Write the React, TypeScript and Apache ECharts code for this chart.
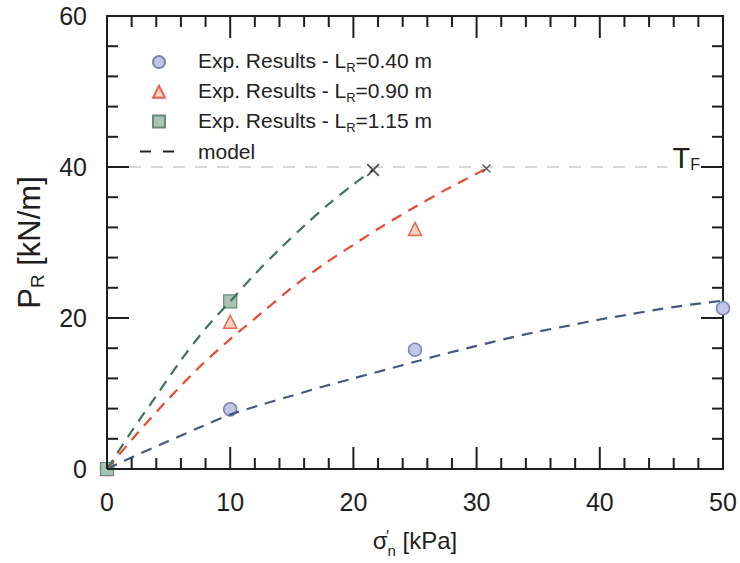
import React, { useEffect, useRef } from "react";
import * as echarts from "echarts";

// ---- data ----
const exp040X = [0, 10, 25, 50];
const exp040Y = [0, 7.9, 15.8, 21.3];
const exp090X = [0, 10, 25];
const exp090Y = [0, 19.5, 31.8];
const exp115X = [0, 10];
const exp115Y = [0, 22.2];

const model040X = [0, 2.5, 5, 7.5, 10, 12.5, 15, 17.5, 20, 22.5, 25, 27.5, 30, 32.5, 35, 37.5, 40, 42.5, 45, 47.5, 50];
const model040Y = [0, 1.9, 3.7, 5.5, 7.2, 8.5, 9.7, 10.9, 12.0, 13.1, 14.2, 15.3, 16.3, 17.3, 18.2, 19.0, 19.8, 20.5, 21.2, 21.8, 22.3];
const model090X = [0, 2.5, 5, 7.5, 10, 12.5, 15, 17.5, 20, 22.5, 25, 27.5, 30.8];
const model090Y = [0, 4.8, 9.3, 13.5, 17.2, 20.6, 24.0, 27.0, 29.7, 32.3, 34.7, 37.0, 39.8];
const model115X = [0, 2, 4, 6, 8, 10, 12, 14, 16, 18, 20, 21.6];
const model115Y = [0, 5.0, 9.7, 14.4, 18.6, 22.2, 25.8, 29.1, 32.2, 35.1, 37.7, 39.6];

const failGreenPt = [21.6, 39.6];
const failRedPt = [30.8, 39.8];

const tfX = [0, 45.5];
const tfY = [40, 40];

const expNames = ["L_R=0.40 m", "L_R=0.90 m", "L_R=1.15 m"];
const modelName = "model";

// axis ranges and tick positions
const xRange = [0, 50];
const yRange = [0, 60];
const xMajorTicks = [0, 10, 20, 30, 40, 50];
const xMinorTicks = [2, 4, 6, 8, 12, 14, 16, 18, 22, 24, 26, 28, 32, 34, 36, 38, 42, 44, 46, 48];
const yMajorTicks = [0, 20, 40, 60];
const yMinorTicks = [4, 8, 12, 16, 24, 28, 32, 36, 44, 48, 52, 56];

const pairs = (xs: number[], ys: number[]) => xs.map((x, i) => [x, ys[i]]);

const FONT = "'Liberation Sans', Arial, Helvetica, sans-serif";
const INK = "#1e1e1e";
const XSYM = "path://M0,1L1,0L5,4L9,0L10,1L6,5L10,9L9,10L5,6L1,10L0,9L4,5Z";
const MAJOR = 22;
const MINOR = 11;
const TICK_W = 2;

function axisBase(showLabel: boolean) {
  return {
    type: "value",
    axisLine: { show: true, onZero: false, lineStyle: { color: INK, width: 2 } },
    axisTick: { show: false },
    minorTick: { show: false },
    splitLine: { show: false },
    axisLabel: { show: showLabel, fontSize: 25, margin: 20, color: INK, fontFamily: FONT },
  };
}

const legendRich = {
  a: { fontSize: 21, fontFamily: FONT, color: "#222", verticalAlign: "top" },
  s: { fontSize: 13, fontFamily: FONT, color: "#222", verticalAlign: "top", padding: [11, 0, 0, 0] },
};

export default function App() {
  const ref = useRef<HTMLDivElement>(null);
  useEffect(() => {
    if (!ref.current) return;
    const chart = echarts.init(ref.current, null, { renderer: "svg" });

    const option: any = {
      animation: false,
      backgroundColor: "#ffffff",
      grid: { left: 107, right: 17, top: 16, bottom: 87, containLabel: false },
      xAxis: [
        {
          ...axisBase(true),
          min: xRange[0],
          max: xRange[1],
          interval: 10,
          position: "bottom",
          name: "{s|σ}{p|′}{n|n}{a| [kPa]}",
          nameLocation: "middle",
          nameGap: 59,
          nameTextStyle: {
            fontFamily: FONT,
            color: INK,
            rich: {
              s: { fontSize: 24, fontFamily: FONT, color: INK, verticalAlign: "top" },
              p: { fontSize: 16, fontFamily: FONT, color: INK, verticalAlign: "top", width: 0 },
              n: { fontSize: 15, fontFamily: FONT, color: INK, verticalAlign: "top", padding: [15, 0, 0, 0] },
              a: { fontSize: 24, fontFamily: FONT, color: INK, verticalAlign: "top" },
            },
          },
        },
        { ...axisBase(false), min: xRange[0], max: xRange[1], interval: 10, position: "top" },
      ],
      yAxis: [
        {
          ...axisBase(true),
          min: yRange[0],
          max: yRange[1],
          interval: 20,
          position: "left",
          name: "{p|P}{s|R}{p| [kN/m]}",
          nameLocation: "middle",
          nameGap: 60,
          nameTextStyle: {
            fontFamily: FONT,
            color: INK,
            rich: {
              p: { fontSize: 31, fontFamily: FONT, color: INK, verticalAlign: "top" },
              s: { fontSize: 19, fontFamily: FONT, color: INK, verticalAlign: "top", padding: [14, 0, 0, 0] },
            },
          },
        },
        { ...axisBase(false), min: yRange[0], max: yRange[1], interval: 20, position: "right" },
      ],
      legend: [
        {
          orient: "vertical",
          left: 152,
          top: 50,
          padding: 0,
          itemWidth: 12,
          itemHeight: 12,
          itemGap: 5.8,
          data: expNames,
          formatter: (name: string) => `{a|Exp. Results - L}{s|R}{a|${name.slice(3)}}`,
          textStyle: { fontFamily: FONT, fontSize: 21, color: "#222", padding: [0, 0, 0, 28], rich: legendRich },
        },
        {
          orient: "vertical",
          left: 139,
          top: 141,
          padding: 0,
          itemWidth: 36,
          itemHeight: 12,
          data: [{ name: modelName, itemStyle: { color: "rgba(0,0,0,0)", borderColor: "rgba(0,0,0,0)", borderWidth: 0 } }],
          formatter: () => "{a|model}",
          textStyle: { fontFamily: FONT, fontSize: 21, color: "#222", padding: [0, 0, 0, 17], rich: legendRich },
        },
      ],
      series: [
        {
          name: "TF",
          type: "line",
          data: pairs(tfX, tfY),
          symbol: "none",
          silent: true,
          z: 1,
          lineStyle: { color: "#d8d8d8", width: 2, type: [12, 10] },
          endLabel: {
            show: true,
            distance: 5,
            offset: [0, -10],
            formatter: "{t|T}{f|F}",
            rich: {
              t: { fontSize: 29, lineHeight: 30, fontFamily: FONT, color: INK, verticalAlign: "bottom" },
              f: { fontSize: 16, lineHeight: 18, fontFamily: FONT, color: INK, verticalAlign: "bottom" },
            },
          },
        },
        {
          name: expNames[0],
          type: "scatter",
          data: pairs(exp040X, exp040Y),
          symbol: "circle",
          symbolSize: 13,
          clip: false,
          z: 3,
          itemStyle: { color: "#c3c5e6", borderColor: "#7f85b8", borderWidth: 1.5, opacity: 1 },
        },
        {
          name: expNames[1],
          type: "scatter",
          data: pairs(exp090X, exp090Y),
          symbol: "triangle",
          symbolSize: 13,
          z: 3,
          itemStyle: { color: "#f8d2c4", borderColor: "#e5674d", borderWidth: 1.5, opacity: 1 },
        },
        {
          name: expNames[2],
          type: "scatter",
          data: pairs(exp115X, exp115Y),
          symbol: "rect",
          symbolSize: 13,
          z: 3,
          itemStyle: { color: "#a9c3b5", borderColor: "#6a8a7b", borderWidth: 1.2, opacity: 1 },
        },
        {
          name: modelName,
          type: "line",
          data: [],
          symbol: "none",
          lineStyle: { color: "#222", width: 2, type: [11, 12] },
          itemStyle: { color: "#222" },
        },
        {
          name: "model 0.40",
          type: "line",
          data: pairs(model040X, model040Y),
          symbol: "none",
          smooth: 0.3,
          z: 4,
          lineStyle: { color: "#46587f", width: 2.2, type: [11, 8] },
        },
        {
          name: "model 0.90",
          type: "line",
          data: pairs(model090X, model090Y),
          symbol: "none",
          smooth: 0.3,
          z: 4,
          lineStyle: { color: "#e84a2e", width: 2.2, type: [11, 8] },
        },
        {
          name: "model 1.15",
          type: "line",
          data: pairs(model115X, model115Y),
          symbol: "none",
          smooth: 0.3,
          z: 4,
          lineStyle: { color: "#3d7360", width: 2.2, type: [11, 8] },
        },
        {
          name: "failure 1.15",
          type: "scatter",
          data: [failGreenPt],
          symbol: XSYM,
          symbolSize: 13,
          z: 5,
          itemStyle: { color: "#2a2a2a" },
        },
        {
          name: "failure 0.90",
          type: "scatter",
          data: [failRedPt],
          symbol: XSYM,
          symbolSize: 9,
          z: 5,
          itemStyle: { color: "#3a3a3a" },
        },
      ],
    };
    chart.setOption(option);

    // inward tick marks on all four sides, placed through the chart's own scales
    const tickStyle = { fill: INK };
    const g: any[] = [];
    const addX = (vals: number[], len: number) =>
      vals.forEach((v) => {
        const b = chart.convertToPixel({ gridIndex: 0 }, [v, yRange[0]]) as number[];
        const t = chart.convertToPixel({ gridIndex: 0 }, [v, yRange[1]]) as number[];
        g.push({ type: "rect", silent: true, z: 100, shape: { x: b[0] - TICK_W / 2, y: b[1] - len, width: TICK_W, height: len }, style: tickStyle });
        g.push({ type: "rect", silent: true, z: 100, shape: { x: t[0] - TICK_W / 2, y: t[1], width: TICK_W, height: len }, style: tickStyle });
      });
    const addY = (vals: number[], len: number) =>
      vals.forEach((v) => {
        const l = chart.convertToPixel({ gridIndex: 0 }, [xRange[0], v]) as number[];
        const r = chart.convertToPixel({ gridIndex: 0 }, [xRange[1], v]) as number[];
        g.push({ type: "rect", silent: true, z: 100, shape: { x: l[0], y: l[1] - TICK_W / 2, width: len, height: TICK_W }, style: tickStyle });
        g.push({ type: "rect", silent: true, z: 100, shape: { x: r[0] - len, y: r[1] - TICK_W / 2, width: len, height: TICK_W }, style: tickStyle });
      });
    addX(xMajorTicks, MAJOR);
    addX(xMinorTicks, MINOR);
    addY(yMajorTicks, MAJOR);
    addY(yMinorTicks, MINOR);
    chart.setOption({ graphic: g });

    return () => chart.dispose();
  }, []);
  return (
    <div style={{ position: "fixed", left: 0, top: 0, width: 740, height: 563, background: "#fff" }}>
      <div ref={ref} style={{ width: 740, height: 563 }} />
    </div>
  );
}
